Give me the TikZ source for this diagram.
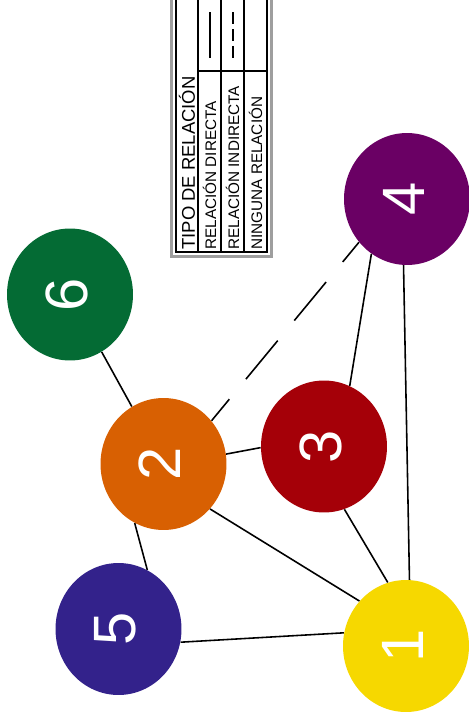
\documentclass[tikz,border=0pt]{standalone}
\usepackage{fontspec}
\setmainfont{Liberation Sans}
\usepackage{xcolor}
\usepackage{tikz}
\usetikzlibrary{shapes.geometric}

\definecolor{ballyellow}{RGB}{246,216,0}
\definecolor{ballorange}{RGB}{216,96,2}
\definecolor{ballred}{RGB}{165,0,8}
\definecolor{ballpurple}{RGB}{106,0,100}
\definecolor{ballblue}{RGB}{51,34,139}
\definecolor{ballgreen}{RGB}{4,107,52}

\newcommand{\balldigit}[1]{\rotatebox{90}{\raisebox{2pt}[\height][0pt]{#1}}}

\begin{document}
\begin{tikzpicture}[x=0.02cm, y=-0.02cm,
  ball/.style={ellipse, minimum width=2.52cm, minimum height=2.64cm, inner sep=0pt,
               text=white, font=\fontsize{34}{34}\selectfont},
  rel/.style={line width=0.9pt, draw=black},
  indirect/.style={rel, dash pattern=on 1cm off 0.52cm, dash phase=0.44cm},
  legtxt/.style={rotate=90, anchor=west, inner sep=0pt, font=\fontsize{8.7}{10}\selectfont}
]
  \useasboundingbox (0,0) rectangle (468,721);

  % Legend
  \draw[line width=1.6pt, draw=black!38] (171.5,-10) rectangle (271.5,256.5);
  \draw[line width=0.8pt] (176,-10) rectangle (267,252);
  \foreach \x in {198,221,244}
    \draw[line width=0.8pt] (\x,-10) -- (\x,252);
  \draw[line width=0.8pt] (198,71) -- (267,71);
  \node[legtxt, font=\fontsize{10.5}{12}\selectfont] (tipo) at (187,250) {TIPO DE RELACIÓN};
  \node[legtxt] (directa)   at (209.5,250) {RELACIÓN DIRECTA};
  \node[legtxt] (indirecta) at (232.5,250) {RELACIÓN INDIRECTA};
  \node[legtxt] (ninguna)   at (255.5,250) {NINGUNA RELACIÓN};
  \draw[line width=1.1pt] (210,12) -- (210,58);
  \draw[line width=1.1pt, dash pattern=on 0.24cm off 0.1cm] (233,12) -- (233,58);

  % Nodes
  \node[ball, fill=ballyellow] (n1) at (406,646) {\balldigit{1}};
  \node[ball, fill=ballorange] (n2) at (163.5,464) {\balldigit{2}};
  \node[ball, fill=ballred]    (n3) at (324,446.5) {\balldigit{3}};
  \node[ball, fill=ballpurple] (n4) at (407,199) {\balldigit{4}};
  \node[ball, fill=ballblue]   (n5) at (118.5,629) {\balldigit{5}};
  \node[ball, fill=ballgreen]  (n6) at (70,294.5) {\balldigit{6}};

  % Paths
  \draw[rel] (n6) -- (n2);
  \draw[rel] (n2.9) -- (n3.181);
  \draw[indirect] (n2.42.5) -- (n4.222.5);
  \draw[rel] (n3.67) -- (n4.237);
  \draw[rel] (n4.267) -- (n1.87);
  \draw[rel] (n3.-72) -- (n1.106);
  \draw[rel] (n2.-44) -- (n1.136);
  \draw[rel] (n2.-116) -- (n5.64);
  \draw[rel] (n5.-12) -- (n1.168);
\end{tikzpicture}
\end{document}
